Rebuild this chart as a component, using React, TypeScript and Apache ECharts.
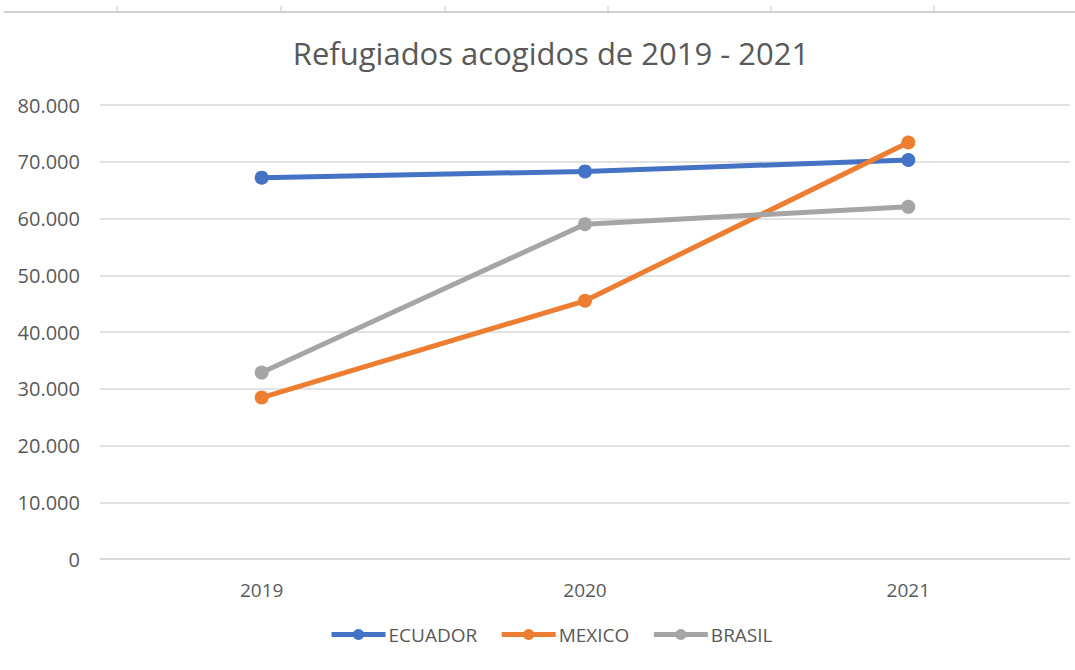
import React, { useEffect, useRef } from "react";
import * as echarts from "echarts";

const years = ["2019", "2020", "2021"];
const ecuador = [67200, 68300, 70300];
const mexico = [28450, 45500, 73400];
const brasil = [32850, 59000, 62050];
const seriesNames = ["ECUADOR", "MEXICO", "BRASIL"];
const colors = ["#4472C4", "#ED7D31", "#A5A5A5"];
const topTicks = [117, 281, 445, 608, 771, 934];

const FONT = "'Open Sans', 'Noto Sans', sans-serif";

export default function App() {
  const ref = useRef<HTMLDivElement>(null);
  useEffect(() => {
    if (!ref.current) return;
    const chart = echarts.init(ref.current, undefined, { renderer: "svg" });
    const data = [ecuador, mexico, brasil];
    const fmt = (v: number) =>
      v === 0 ? "0" : String(v).replace(/\B(?=(\d{3})+(?!\d))/g, ".");
    chart.setOption({
      animation: false,
      backgroundColor: "#ffffff",
      title: {
        text: "Refugiados acogidos de 2019 - 2021",
        left: 546,
        textAlign: "center",
        top: 32,
        textStyle: { fontFamily: FONT, fontSize: 31, fontWeight: "normal", color: "#595959" },
      },
      grid: { left: 100, right: 5, top: 105, bottom: 111 },
      legend: {
        bottom: 21,
        left: 324,
        itemWidth: 54,
        itemHeight: 14,
        itemGap: 22,
        lineStyle: { width: 5 },
        textStyle: { fontFamily: FONT, fontSize: 19, color: "#595959", padding: [0, 0, 0, -2] },
        data: seriesNames,
      },
      xAxis: {
        type: "category",
        data: years,
        axisLine: { lineStyle: { color: "#D9D9D9", width: 1.5 } },
        axisTick: { show: false },
        axisLabel: { fontFamily: FONT, fontSize: 19, color: "#595959", margin: 21 },
      },
      yAxis: {
        type: "value",
        min: 0,
        max: 80000,
        interval: 10000,
        axisLine: { show: false },
        axisTick: { show: false },
        splitLine: { lineStyle: { color: "#D9D9D9", width: 1.5 } },
        axisLabel: { fontFamily: FONT, fontSize: 20, color: "#595959", margin: 20, formatter: fmt },
      },
      series: seriesNames.map((name, i) => ({
        name,
        type: "line",
        data: data[i],
        color: colors[i],
        symbol: "circle",
        symbolSize: 14,
        lineStyle: { width: 5, color: colors[i] },
        itemStyle: { color: colors[i] },
      })),
      graphic: [
        {
          type: "line",
          shape: { x1: 4, y1: 12, x2: 1075, y2: 12 },
          style: { stroke: "#D0D0D0", lineWidth: 2 },
        },
        ...topTicks.map((x) => ({
          type: "line",
          shape: { x1: x, y1: 6, x2: x, y2: 12 },
          style: { stroke: "#C8C8C8", lineWidth: 1 },
        })),
      ],
    });
    return () => chart.dispose();
  }, []);
  return <div ref={ref} style={{ width: 1075, height: 670, position: "absolute", left: 0, top: 0 }} />;
}
